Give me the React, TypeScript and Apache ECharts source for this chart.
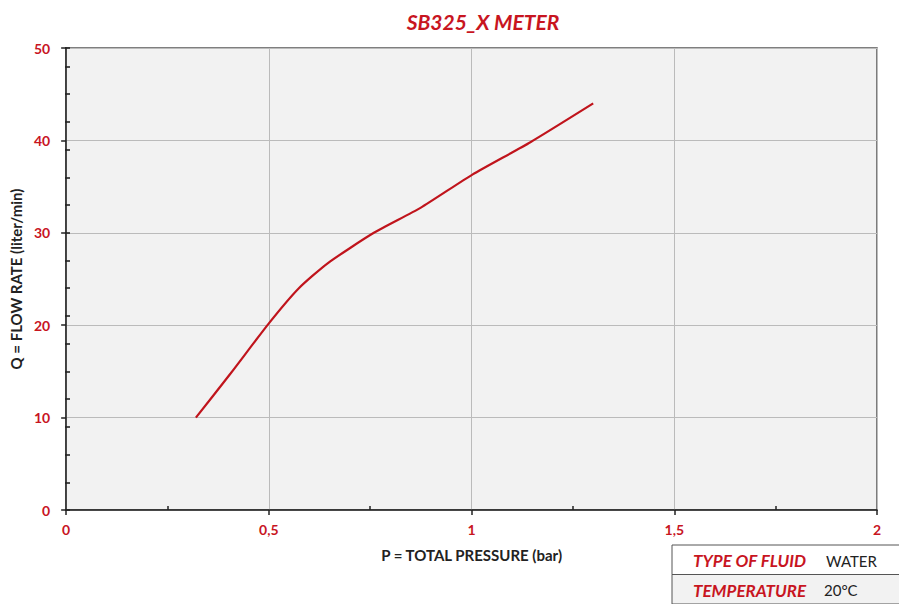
import React, { useEffect, useRef } from "react";
import * as echarts from "echarts";

const pressure = [0.32, 0.406, 0.5, 0.574, 0.645, 0.759, 0.874, 1.002, 1.145, 1.3];
const flowRate = [10, 14.8, 20.2, 24.0, 26.7, 30, 32.7, 36.3, 39.8, 44.0];
const xTickLabels: Record<string, string> = { "0": "0", "0.5": "0,5", "1": "1", "1.5": "1,5", "2": "2" };
const titleText = "SB325_X METER";
const xName = "P = TOTAL PRESSURE (bar)";
const yName = "Q = FLOW RATE (liter/min)";
const infoRows = [
  ["TYPE OF FLUID", "WATER"],
  ["TEMPERATURE", "20°C"],
];

const RED = "#c8151f";
const FONT = "Lato, 'Open Sans', sans-serif";

export default function App() {
  const ref = useRef<HTMLDivElement>(null);
  useEffect(() => {
    document.body.style.margin = "0";
    if (!ref.current) return;
    const chart = echarts.init(ref.current, undefined, { renderer: "svg" });
    const tableX = 672;
    const tableY = 545;
    const rowH = 29.5;
    const graphics: any[] = [];
    infoRows.forEach((row, i) => {
      graphics.push({
        type: "rect",
        shape: { x: tableX, y: tableY + i * rowH, width: 240, height: rowH },
        style: { fill: i === 0 ? "#ffffff" : "#f2f2f2", stroke: "#555", lineWidth: 1 },
      });
      graphics.push({
        type: "text",
        x: tableX + 21,
        y: tableY + i * rowH + rowH / 2 + 1,
        style: {
          text: row[0],
          fill: RED,
          font: `italic bold 17px ${FONT}`,
          verticalAlign: "middle",
          textAlign: "left",
        },
      });
      graphics.push({
        type: "text",
        x: tableX + (i === 0 ? 154 : 152),
        y: tableY + i * rowH + rowH / 2 + 1,
        style: {
          text: row[1],
          fill: "#222",
          font: `15px ${FONT}`,
          verticalAlign: "middle",
          textAlign: "left",
        },
      });
    });
    const gridBox = { left: 65, right: 22, top: 48, bottom: 94 };
    chart.setOption({
      animation: false,
      title: {
        text: titleText,
        left: 478,
        top: 6,
        textAlign: "center",
        textStyle: { color: RED, fontSize: 21, fontWeight: "bold", fontStyle: "italic", fontFamily: FONT },
      },
      grid: [
        {
          ...gridBox,
          show: true,
          backgroundColor: "#f2f2f2",
          borderColor: "#555",
          borderWidth: 1.5,
        },
        { ...gridBox, show: false },
      ],
      xAxis: [
        {
          type: "value",
          gridIndex: 0,
          min: 0,
          max: 2,
          interval: 0.5,
          name: xName,
          nameLocation: "middle",
          nameGap: 37,
          nameTextStyle: { color: "#222", fontSize: 15, fontWeight: "bold", fontFamily: FONT },
          axisLine: { show: true, lineStyle: { color: "#222", width: 1.5 } },
          axisTick: { show: true, length: 5, lineStyle: { color: "#222", width: 1.5 } },
          minorTick: { show: true, splitNumber: 2, length: -4, lineStyle: { color: "#222", width: 1.5 } },
          splitLine: { show: true, lineStyle: { color: "#bbb", width: 1 } },
          axisLabel: {
            color: RED,
            fontSize: 14,
            fontWeight: "bold",
            fontFamily: FONT,
            margin: 12,
            formatter: (v: number) => xTickLabels[String(v)] ?? String(v),
          },
        },
        {
          type: "value",
          gridIndex: 1,
          min: 0,
          max: 2,
          axisLine: { show: false },
          axisTick: { show: false },
          axisLabel: { show: false },
          splitLine: { show: false },
        },
      ],
      yAxis: [
        {
          type: "value",
          gridIndex: 0,
          min: 0,
          max: 50,
          interval: 10,
          name: yName,
          nameLocation: "middle",
          nameGap: 43,
          nameTextStyle: { color: "#222", fontSize: 15, fontWeight: "bold", fontFamily: FONT },
          axisLine: { show: true, lineStyle: { color: "#222", width: 1.5 } },
          axisTick: { show: true, length: 5, lineStyle: { color: "#222", width: 1.5 } },
          splitLine: { show: true, lineStyle: { color: "#bbb", width: 1 } },
          axisLabel: { color: RED, fontSize: 14, fontWeight: "bold", fontFamily: FONT, margin: 16 },
        },
        {
          type: "value",
          gridIndex: 1,
          min: 0,
          max: 50,
          interval: 3,
          position: "left",
          axisLine: { show: false },
          axisTick: { show: true, inside: true, length: 5, lineStyle: { color: "#222", width: 1.6 } },
          splitLine: { show: false },
          axisLabel: { show: false },
        },
      ],
      series: [
        {
          type: "line",
          xAxisIndex: 0,
          yAxisIndex: 0,
          data: pressure.map((p, i) => [p, flowRate[i]]),
          smooth: 0.2,
          showSymbol: false,
          lineStyle: { color: "#c0141c", width: 2.2 },
        },
        {
          type: "line",
          xAxisIndex: 1,
          yAxisIndex: 1,
          data: [],
          showSymbol: false,
        },
      ],
      graphic: graphics,
    });
    return () => chart.dispose();
  }, []);
  return <div ref={ref} style={{ width: 899, height: 604 }} />;
}
